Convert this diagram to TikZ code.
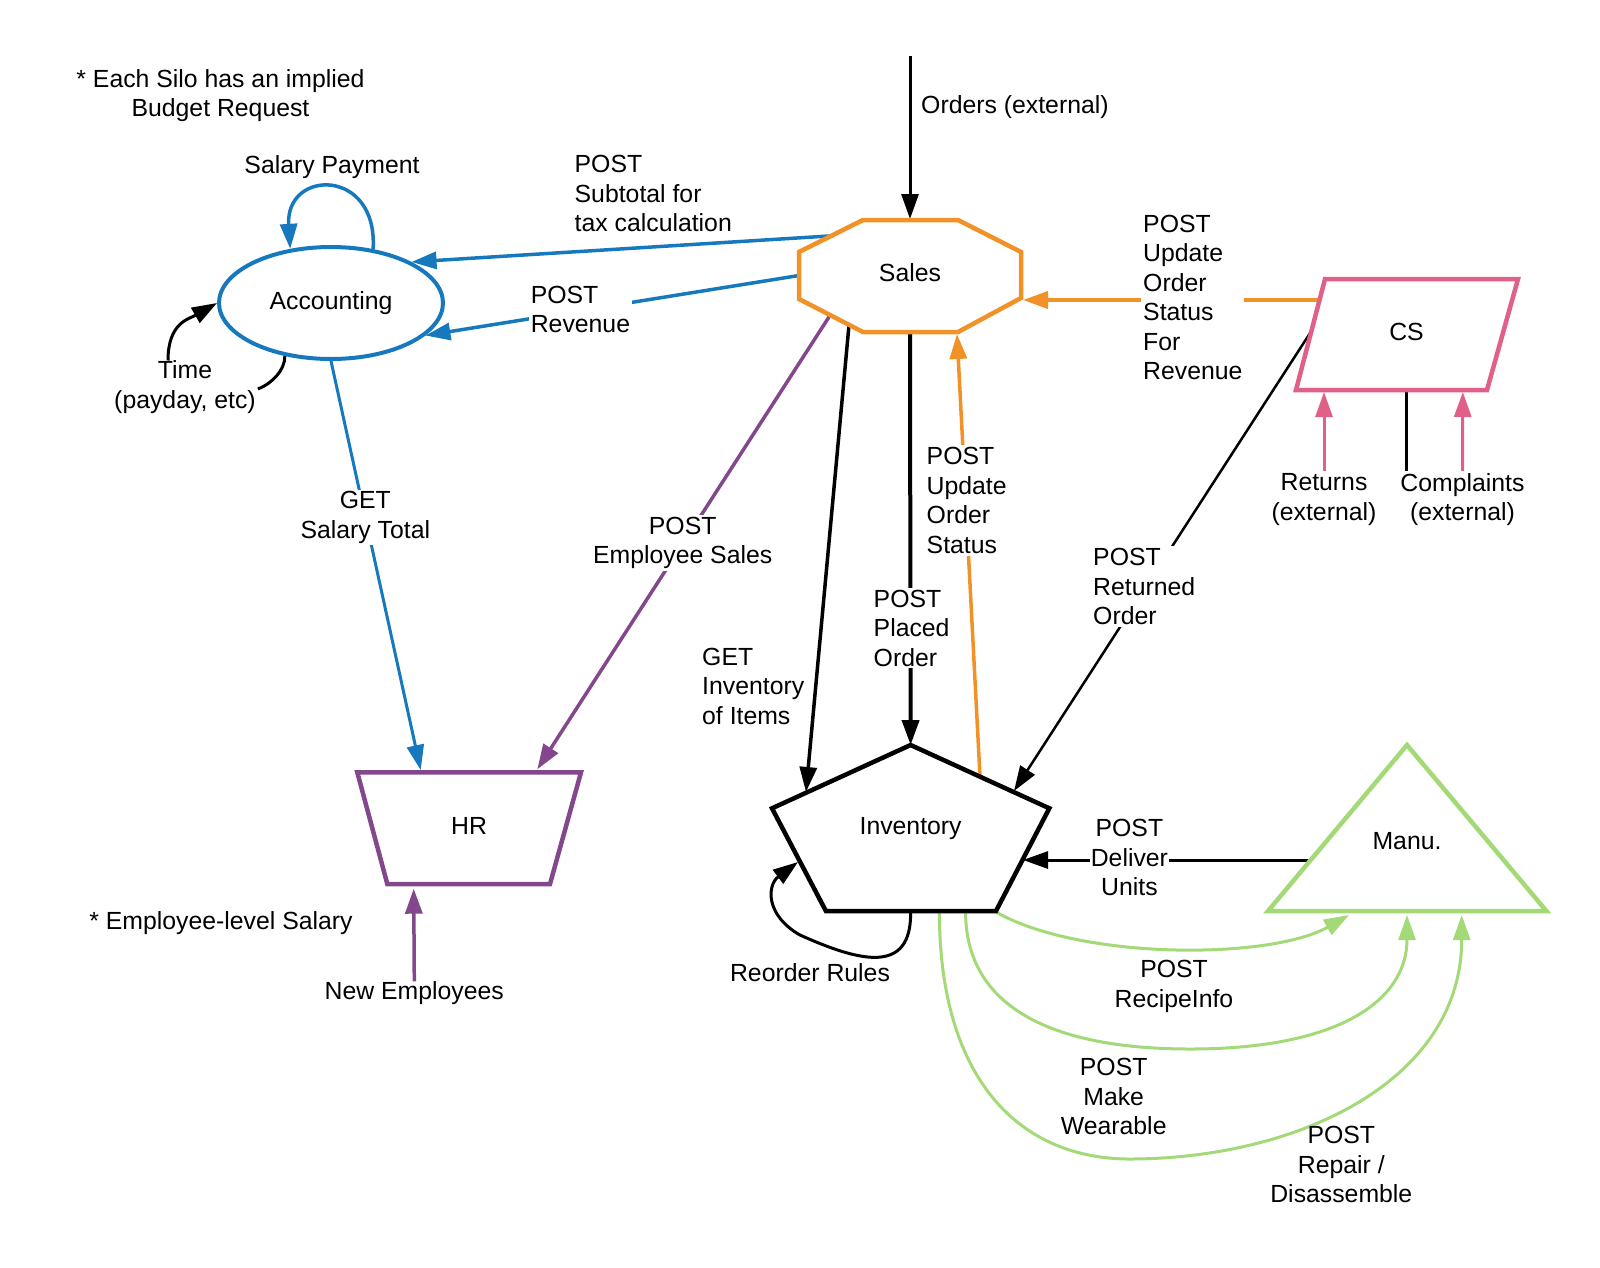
\documentclass[tikz,border=0pt]{standalone}
\usepackage{fontspec}
\setmainfont{Liberation Sans}
\usetikzlibrary{arrows.meta,calc,shapes.geometric}
\definecolor{cblue}{RGB}{22,121,190}
\definecolor{corange}{RGB}{241,146,40}
\definecolor{cpurple}{RGB}{131,72,139}
\definecolor{cpink}{RGB}{224,96,135}
\definecolor{cgreen}{RGB}{163,217,119}
\newcommand{\lblfont}{\fontsize{24.8}{29.5}\selectfont}
\pgfdeclarelayer{bg}
\pgfsetlayers{bg,main}
\begin{document}
\begin{tikzpicture}[x=1pt,y=1pt,
  every node/.style={font=\lblfont, text=black},
  txt/.style={inner sep=0pt},
  lbl/.style={inner sep=2pt, fill=white},
  shapebox/.style={inner sep=0pt},
  outline/.style={line width=4.5pt, line join=miter},
  conn/.style={line width=3.5pt},
  arrowed/.style={-{Triangle[length=25pt,width=17pt]}},
]
\useasboundingbox (0,0) rectangle (1600,-1267);

% ---------- shapes ----------
\node[shapebox, ellipse, draw=cblue, line width=4pt, minimum width=224pt, minimum height=112pt] (acc) at (331,-303) {Accounting};

\node[shapebox] (sales) at (910,-273) {Sales};
\draw[corange, outline] ($(sales)+(-47,53)$) -- ($(sales)+(48,53)$) -- ($(sales)+(111,21)$) -- ($(sales)+(111,-25)$) -- ($(sales)+(48,-59)$) -- ($(sales)+(-47,-59)$) -- ($(sales)+(-111,-26)$) -- ($(sales)+(-111,21)$) -- cycle;

\node[shapebox] (hr) at (469,-826) {HR};
\draw[cpurple, outline] ($(hr)+(-111.7,53.7)$) -- ($(hr)+(112,53.7)$) -- ($(hr)+(81,-58)$) -- ($(hr)+(-81.7,-58)$) -- cycle;

\node[shapebox] (inv) at (910.6,-829) {Inventory};
\draw[black, outline] ($(inv)+(0,84)$) -- ($(inv)+(138.7,20.7)$) -- ($(inv)+(85.4,-82)$) -- ($(inv)+(-84.7,-82)$) -- ($(inv)+(-138.6,20.7)$) -- cycle;

\node[shapebox] (cs) at (1406.5,-332) {CS};
\draw[cpink, outline] ($(cs)+(-81.5,53)$) -- ($(cs)+(111.5,53)$) -- ($(cs)+(80.5,-58)$) -- ($(cs)+(-110.5,-58)$) -- cycle;

\node[shapebox] (manu) at (1407,-841) {Manu.};
\draw[cgreen, outline] ($(manu)+(0,96)$) -- ($(manu)+(139.4,-70)$) -- ($(manu)+(-139,-70)$) -- cycle;

% ---------- labels ----------
\node[txt, align=center] (note1) at (220.5,-95.8) {* Each Silo has an implied\\Budget Request};
\node[txt] (note2) at (221,-923.5) {* Employee-level Salary};
\node[txt] (salpay) at (332,-167.5) {Salary Payment};
\node[txt, align=center] (time) at (185,-387) {Time\\(payday, etc)};
\node[txt, anchor=west] (orders) at (921,-107.5) {Orders (external)};
\node[txt, align=left, anchor=west] (subtot) at (574.5,-193.5) {POST\\Subtotal for\\tax calculation};
\node[lbl, align=left, anchor=west] (revlbl) at (528.6,-309.5) {POST\\Revenue};
\node[lbl, align=center] (empsal) at (682.7,-543) {POST\\Employee Sales};
\node[lbl, align=center] (saltot) at (365.3,-517.5) {GET\\Salary Total};
\node[txt, align=left, anchor=west] (getinv) at (702,-686) {GET\\Inventory\\of Items};
\node[lbl, align=left, anchor=west] (placed) at (871.5,-628) {POST\\Placed\\Order};
\node[lbl, align=left, anchor=west] (updst) at (924.5,-500.5) {POST\\Update\\Order\\Status};
\node[lbl, align=left, anchor=west] (forrev) at (1141,-297.5) {POST\\Update\\Order\\Status\\For\\Revenue};
\node[lbl, align=left, anchor=west] (retord) at (1091,-586.5) {POST\\Returned\\Order};
\node[lbl, align=center] (returns) at (1324,-499.5) {Returns\\(external)};
\node[lbl, align=center] (compl) at (1462.5,-499.5) {Complaints\\(external)};
\node[lbl, inner sep=0.5pt, align=center] (deliv) at (1129.4,-857.5) {POST\\Deliver\\Units};
\node[txt, align=center] (recipe) at (1174,-986.5) {POST\\RecipeInfo};
\node[txt, align=center] (wear) at (1113.7,-1096.5) {POST\\Make\\Wearable};
\node[txt, align=center] (repair) at (1341.3,-1164.5) {POST\\Repair /\\Disassemble};
\node[txt] (reorder) at (810,-973) {Reorder Rules};
\node[txt] (newemp) at (414.3,-993) {New Employees};

% ---------- connectors ----------
\begin{pgfonlayer}{bg}
\coordinate (ordsrc) at (910,-56);
\draw[line width=3pt, arrowed] (ordsrc) -- ($(sales)+(0,54)$);

\draw[conn, cblue, arrowed] ($(sales)+(-76.3,37.3)$) -- (acc.27);
\draw[conn, cblue, arrowed] ($(sales)+(-111,-2.5)$) -- (acc.-19);
\draw[line width=3pt, cblue, arrowed] (acc.south) -- ($(hr)+(-48.3,56)$);
\draw[conn, cblue, arrowed] (acc.52) .. controls +(5,82) and +(-5,80) .. (acc.127);

\draw[line width=3pt, arrowed] ($(time.north)+(-17,0)$) .. controls +(0,38) and +(-28,-16) .. (acc.west);
\draw[line width=3pt] (acc.-131) .. controls +(0,-15) and +(13,5) .. ($(time.east)+(2,-2)$);

\draw[conn, cpurple, arrowed] ($(sales)+(-80.4,-43)$) -- ($(hr)+(68.3,56.7)$);
\draw[line width=3.5pt, cpurple, arrowed] (newemp.north) -- ($(hr)+(-55.3,-62.7)$);

\draw[conn, arrowed] ($(sales)+(-61,-52)$) -- ($(inv)+(-104.6,37)$);
\draw[line width=4pt, arrowed] ($(sales)+(0,-59)$) -- ($(inv)+(0,84)$);
\draw[conn, corange, arrowed] ($(inv)+(69.4,52.3)$) -- ($(sales)+(47,-61)$);
\draw[line width=4pt, corange, arrowed] ($(cs)+(-87,32)$) -- ($(sales)+(113,-27)$);
\draw[line width=2.5pt, arrowed] ($(cs)+(-95.5,0.4)$) -- ($(inv)+(103.4,38)$);

\draw[line width=3pt, cpink, arrowed] (returns.north) -- ($(cs)+(-82.5,-60)$);
\draw[line width=3pt, cpink, arrowed] (compl.north) -- ($(cs)+(56.3,-60)$);
\draw[line width=2.5pt] ($(cs)+(0,-58)$) -- ++(0,-90);

\draw[line width=3pt, arrowed] ($(manu)+(-96.4,-19)$) -- ($(inv)+(112.4,-31)$);

\draw[line width=3pt, cgreen, arrowed] ($(inv)+(85.4,-83)$) .. controls +(84,-48) and +(-79,-45) .. ($(manu)+(-58,-74)$);
\draw[line width=3pt, cgreen, arrowed] ($(inv)+(55,-83)$) .. controls +(0,-88) and +(-150,0) .. (1190,-1049) .. controls +(150,0) and +(0,-85) .. ($(manu)+(0,-74)$);
\draw[line width=3pt, cgreen, arrowed] ($(inv)+(28.8,-83)$) .. controls +(0,-168) and +(-112,-1) .. (1132,-1159) .. controls +(168,1) and +(0,-165) .. ($(manu)+(54.7,-74)$);

\draw[line width=3pt, arrowed] ($(inv)+(0,-83)$) .. controls +(1,-63) and +(60,-27) .. (800,-935) .. controls +(-35,20) and +(-31,-23) .. ($(inv)+(-112.6,-33)$);
\end{pgfonlayer}
\end{tikzpicture}
\end{document}
